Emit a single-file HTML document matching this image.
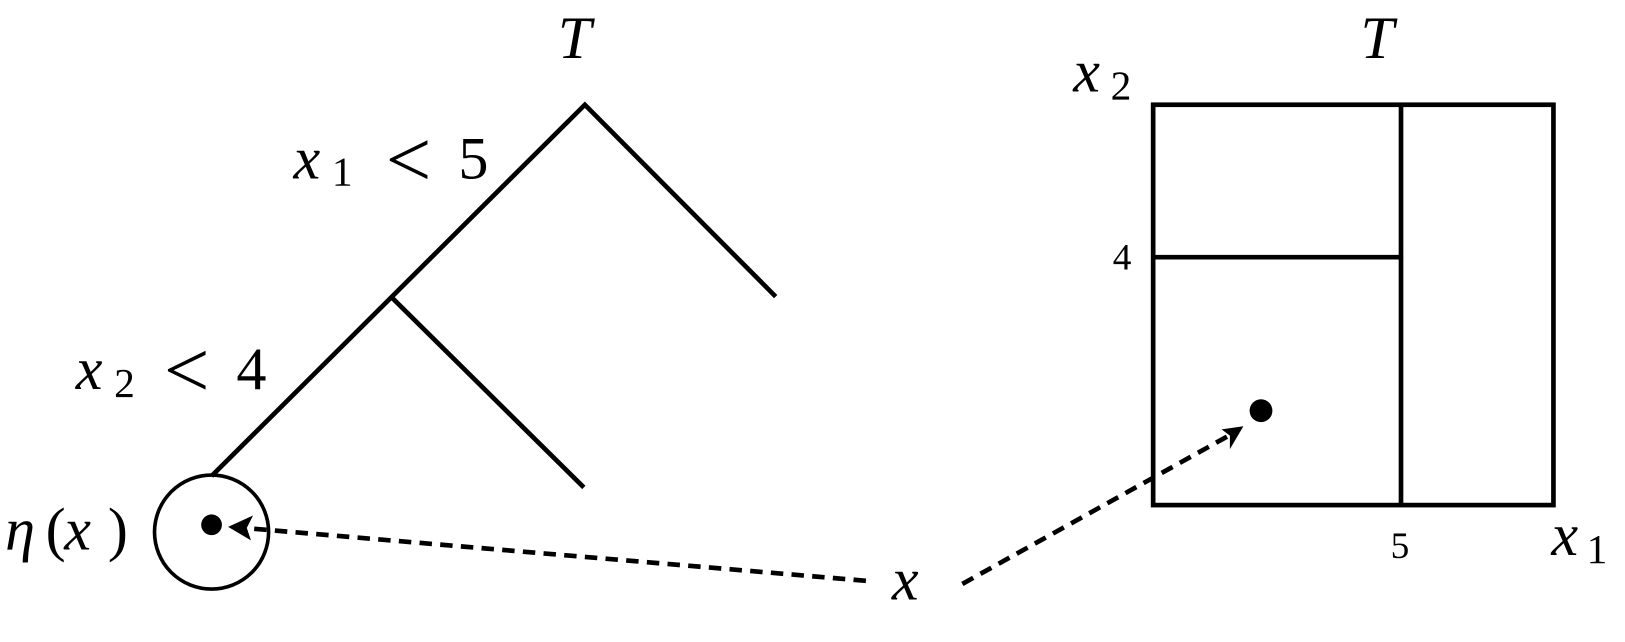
<!DOCTYPE html>
<html><head><meta charset="utf-8"><style>
html,body{margin:0;padding:0;background:#fff;}
svg{display:block}
text{font-family:"Liberation Serif","DejaVu Serif",serif;fill:#000}
</style></head><body>
<svg width="1625" height="642" viewBox="0 0 1567 619" preserveAspectRatio="none" xmlns="http://www.w3.org/2000/svg">
<g stroke="#000" stroke-width="4.5" fill="none" stroke-linecap="butt">
<polyline points="204,459 564,101 748,286"/>
<line x1="378" y1="287" x2="563" y2="470"/>
<circle cx="204" cy="513" r="55" stroke-width="3.5"/>
<rect x="1112" y="101" width="386" height="386"/>
<line x1="1351" y1="101" x2="1351" y2="487"/>
<line x1="1112" y1="248" x2="1353" y2="248"/>
<line x1="835" y1="560" x2="235" y2="509" stroke-dasharray="12,8"/>
<line x1="928" y1="563" x2="1185" y2="420" stroke-dasharray="12,8"/>
</g>
<circle cx="204" cy="506" r="10" fill="#000"/>
<circle cx="1216" cy="396" r="11" fill="#000"/>
<polygon points="220,508 244,497 238,509 242,521" fill="#000"/>
<polygon points="1199,411 1178,414 1186,420 1186,433" fill="#000"/>
<text x="538" y="56" font-size="58" font-style="italic">T</text>
<text x="1312" y="56" font-size="58" font-style="italic">T</text>
<text x="283" y="172" font-size="58" font-style="italic">x</text>
<text x="320" y="179" font-size="40">1</text>
<text x="372" y="180" font-size="78">&lt;</text>
<text x="442" y="172" font-size="58">5</text>
<text x="73" y="375" font-size="58" font-style="italic">x</text>
<text x="110" y="383" font-size="40">2</text>
<text x="158" y="383" font-size="78">&lt;</text>
<text x="228" y="375" font-size="58">4</text>
<text x="5" y="530" font-size="58" font-style="italic">η</text>
<text x="44" y="530" font-size="58">(</text>
<text x="62" y="530" font-size="58" font-style="italic">x</text>
<text x="104" y="530" font-size="58">)</text>
<text x="860" y="578" font-size="58" font-style="italic">x</text>
<text x="1035" y="88" font-size="58" font-style="italic">x</text>
<text x="1071" y="96" font-size="40">2</text>
<text x="1073" y="260" font-size="36">4</text>
<text x="1341" y="538" font-size="36">5</text>
<text x="1496" y="535" font-size="58" font-style="italic">x</text>
<text x="1530" y="543" font-size="40">1</text>
</svg>
</body></html>
